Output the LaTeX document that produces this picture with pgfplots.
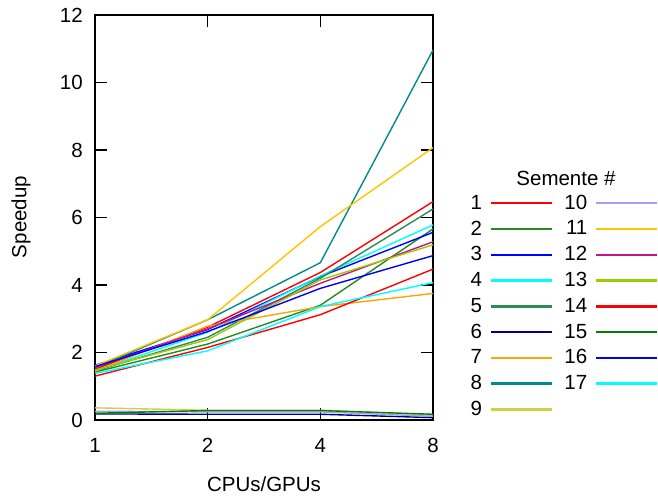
\documentclass[border=0pt]{standalone}
\usepackage{fontspec}
\setmainfont{Liberation Sans}
\usepackage{pgfplots}
\pgfplotsset{compat=1.18}
\definecolor{c1}{HTML}{FF0000}
\definecolor{c2}{HTML}{228B22}
\definecolor{c3}{HTML}{0000FF}
\definecolor{c4}{HTML}{00FFFF}
\definecolor{c5}{HTML}{2E8B57}
\definecolor{c6}{HTML}{00008B}
\definecolor{c7}{HTML}{FFA500}
\definecolor{c8}{HTML}{008B8B}
\definecolor{c9}{HTML}{D0D040}
\definecolor{c10}{HTML}{A0A0F8}
\definecolor{c11}{HTML}{FFC400}
\definecolor{c12}{HTML}{C71585}
\definecolor{c13}{HTML}{9ACD00}
\definecolor{c14}{HTML}{FF0000}
\definecolor{c15}{HTML}{007F00}
\definecolor{c16}{HTML}{0000FF}
\definecolor{c17}{HTML}{00FFFF}
\newcommand{\ct}[1]{\hspace{4bp}#1\hspace{5bp}}
\begin{document}
\begin{tikzpicture}[x=1bp,y=1bp]
\useasboundingbox (0,0) rectangle (658,499);
\begin{axis}[
  at={(95bp,79bp)}, anchor=south west,
  scale only axis, width=338bp, height=405bp,
  xmode=log, log basis x=2,
  xmin=1, xmax=8, ymin=0, ymax=12,
  xtick={1,2,4,8}, xticklabels={1,2,4,8},
  ytick={0,2,4,6,8,10,12},
  tick align=inside, major tick length=12bp,
  axis line style={line width=1.3bp},
  every tick/.style={line width=1.3bp, black},
  font=\fontsize{20.5bp}{24bp}\selectfont,
  /pgf/number format/assume math mode=true,
  yticklabel style={inner sep=0pt, anchor=east, xshift=-12bp},
  xticklabel style={inner sep=0pt, anchor=north, yshift=-18bp},
  legend columns=2,
  legend plot pos=right,
  legend cell align=right,
  legend image code/.code={\fill[#1] (0bp,-0.75bp) rectangle (60bp,0.75bp);},
  legend style={draw=none, fill=none,
    at={(axis description cs:1.102,0.561)}, anchor=north west,
    nodes={inner sep=0pt},
    column sep=9bp, row sep=10bp,
    font=\fontsize{20.5bp}{24bp}\selectfont},
]
\addplot[c1, line width=1.4bp, forget plot] coordinates {(1,1.50) (2,2.75) (4,4.37) (8,6.47)};
\addplot[c2, line width=1.4bp, forget plot] coordinates {(1,1.42) (2,2.25) (4,3.40) (8,5.66)};
\addplot[c3, line width=1.4bp, forget plot] coordinates {(1,1.62) (2,2.68) (4,4.25) (8,5.56)};
\addplot[c4, line width=1.4bp, forget plot] coordinates {(1,1.45) (2,2.60) (4,4.27) (8,5.78)};
\addplot[c5, line width=1.4bp, forget plot] coordinates {(1,1.45) (2,2.45) (4,4.20) (8,6.25)};
\addplot[c6, line width=1.4bp, forget plot] coordinates {(1,0.18) (2,0.17) (4,0.17) (8,0.07)};
\addplot[c7, line width=1.4bp, forget plot] coordinates {(1,1.45) (2,2.78) (4,3.36) (8,3.75)};
\addplot[c8, line width=1.4bp, forget plot] coordinates {(1,1.55) (2,2.97) (4,4.66) (8,10.96)};
\addplot[c9, line width=1.4bp, forget plot] coordinates {(1,0.36) (2,0.29) (4,0.29) (8,0.15)};
\addplot[c10, line width=1.4bp, forget plot] coordinates {(1,0.26) (2,0.24) (4,0.24) (8,0.11)};
\addplot[c11, line width=1.4bp, forget plot] coordinates {(1,1.60) (2,2.97) (4,5.73) (8,8.07)};
\addplot[c12, line width=1.4bp, forget plot] coordinates {(1,1.55) (2,2.70) (4,4.05) (8,5.28)};
\addplot[c13, line width=1.4bp, forget plot] coordinates {(1,1.48) (2,2.38) (4,4.15) (8,5.19)};
\addplot[c14, line width=1.4bp, forget plot] coordinates {(1,1.30) (2,2.15) (4,3.12) (8,4.47)};
\addplot[c15, line width=1.4bp, forget plot] coordinates {(1,0.20) (2,0.28) (4,0.28) (8,0.17)};
\addplot[c16, line width=1.4bp, forget plot] coordinates {(1,1.58) (2,2.62) (4,3.90) (8,4.87)};
\addplot[c17, line width=1.4bp, forget plot] coordinates {(1,1.38) (2,2.05) (4,3.36) (8,4.07)};
\addlegendimage{color=c1}\addlegendentry{1}
\addlegendimage{color=c10}\addlegendentry{\ct{10}}
\addlegendimage{color=c2}\addlegendentry{2}
\addlegendimage{color=c11}\addlegendentry{\ct{11}}
\addlegendimage{color=c3}\addlegendentry{3}
\addlegendimage{color=c12}\addlegendentry{\ct{12}}
\addlegendimage{color=c4}\addlegendentry{4}
\addlegendimage{color=c13}\addlegendentry{\ct{13}}
\addlegendimage{color=c5}\addlegendentry{5}
\addlegendimage{color=c14}\addlegendentry{\ct{14}}
\addlegendimage{color=c6}\addlegendentry{6}
\addlegendimage{color=c15}\addlegendentry{\ct{15}}
\addlegendimage{color=c7}\addlegendentry{7}
\addlegendimage{color=c16}\addlegendentry{\ct{16}}
\addlegendimage{color=c8}\addlegendentry{8}
\addlegendimage{color=c17}\addlegendentry{\ct{17}}
\addlegendimage{color=c9}\addlegendentry{9}
\end{axis}
\node[font=\fontsize{20.5bp}{24bp}\selectfont, rotate=90] at (21,282) {Speedup};
\node[font=\fontsize{20.5bp}{24bp}\selectfont] at (264,15) {CPUs/GPUs};
\node[font=\fontsize{20.5bp}{24bp}\selectfont] at (566,321) {Semente \#};
\end{tikzpicture}
\end{document}
